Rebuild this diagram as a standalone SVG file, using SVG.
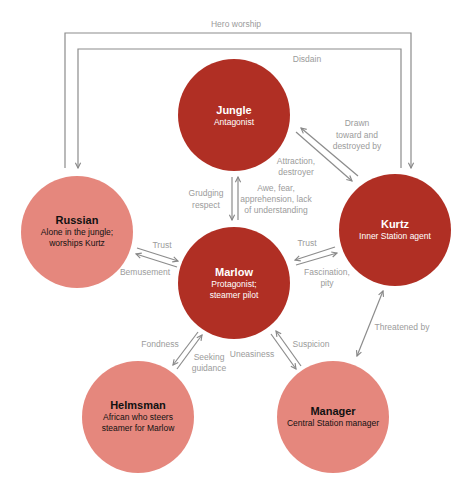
<svg xmlns="http://www.w3.org/2000/svg" width="474" height="496" viewBox="0 0 474 496">
<defs>
<marker id="ah" viewBox="0 0 8 8" refX="7" refY="4" markerWidth="7" markerHeight="7" orient="auto-start-reverse" markerUnits="userSpaceOnUse">
<path d="M1,1 L7,4 L1,7" fill="none" stroke="#888" stroke-width="1.3"/>
</marker>
<style>
.c{stroke:#8c8c8c;stroke-width:1.2;fill:none}
.a{marker-end:url(#ah)}
.l{font-family:"Liberation Sans",Arial,sans-serif;font-size:8.5px;fill:#9b9b9b;text-anchor:middle}
.t{font-family:"Liberation Sans",Arial,sans-serif;font-size:11px;font-weight:bold;text-anchor:middle}
.s{font-family:"Liberation Sans",Arial,sans-serif;font-size:8.5px;text-anchor:middle}
.dk circle{fill:#b02f24}
.lt circle{fill:#e5877d}
.dk text{fill:#fff}
.lt text{fill:#111}
</style>
</defs>
<rect width="474" height="496" fill="#fff"/>
<g id="connectors">
<path class="c a" d="M65,168 V33 H411 V168"/>
<path class="c a" d="M401,168 V49 H78 V168"/>
<path class="c a" d="M358,176 L301,128"/>
<path class="c a" d="M296,132 L352,181"/>
<path class="c a" d="M232,177 V220"/>
<path class="c a" d="M238,220 V177"/>
<path class="c a" d="M137,248 L178,261"/>
<path class="c a" d="M177,267 L136,254"/>
<path class="c a" d="M335,247 L295,260"/>
<path class="c a" d="M296,265 L337,253"/>
<path class="c a" d="M357,356 L383,291" style="marker-start:url(#ah)"/>
<path class="c a" d="M198,332 L173,365"/>
<path class="c a" d="M177,369 L202,335"/>
<path class="c a" d="M271,334 L296,369"/>
<path class="c a" d="M301,366 L276,331"/>
<text class="l" x="236" y="27">Hero worship</text>
<text class="l" x="307" y="62">Disdain</text>
<text class="l" x="357" y="126">Drawn</text>
<text class="l" x="357" y="138">toward and</text>
<text class="l" x="357" y="149">destroyed by</text>
<text class="l" x="296" y="164">Attraction,</text>
<text class="l" x="296" y="175">destroyer</text>
<text class="l" x="206" y="196">Grudging</text>
<text class="l" x="206" y="208">respect</text>
<text class="l" x="276" y="191">Awe, fear,</text>
<text class="l" x="276" y="202">apprehension, lack</text>
<text class="l" x="276" y="213">of understanding</text>
<text class="l" x="162" y="248">Trust</text>
<text class="l" x="145" y="275">Bemusement</text>
<text class="l" x="307" y="246">Trust</text>
<text class="l" x="327" y="275">Fascination,</text>
<text class="l" x="327" y="286">pity</text>
<text class="l" x="402" y="330">Threatened by</text>
<text class="l" x="160" y="347">Fondness</text>
<text class="l" x="209" y="360">Seeking</text>
<text class="l" x="209" y="371">guidance</text>
<text class="l" x="252" y="357">Uneasiness</text>
<text class="l" x="311" y="347">Suspicion</text>
</g>
<g id="jungle" class="dk">
<circle cx="234" cy="115" r="56"/>
<text class="t" x="234" y="114">Jungle</text>
<text class="s" x="234" y="125">Antagonist</text>
</g>
<g id="russian" class="lt">
<circle cx="77" cy="232" r="56"/>
<text class="t" x="77" y="224">Russian</text>
<text class="s" x="77" y="235">Alone in the jungle;</text>
<text class="s" x="77" y="246">worships Kurtz</text>
</g>
<g id="kurtz" class="dk">
<circle cx="395" cy="230" r="56"/>
<text class="t" x="395" y="228">Kurtz</text>
<text class="s" x="395" y="239">Inner Station agent</text>
</g>
<g id="marlow" class="dk">
<circle cx="234" cy="283" r="56"/>
<text class="t" x="234" y="276">Marlow</text>
<text class="s" x="234" y="287">Protagonist;</text>
<text class="s" x="234" y="298">steamer pilot</text>
</g>
<g id="helmsman" class="lt">
<circle cx="138" cy="417" r="56"/>
<text class="t" x="138" y="409">Helmsman</text>
<text class="s" x="138" y="420">African who steers</text>
<text class="s" x="138" y="431">steamer for Marlow</text>
</g>
<g id="manager" class="lt">
<circle cx="333" cy="417" r="56"/>
<text class="t" x="333" y="415">Manager</text>
<text class="s" x="333" y="426">Central Station manager</text>
</g>
</svg>
